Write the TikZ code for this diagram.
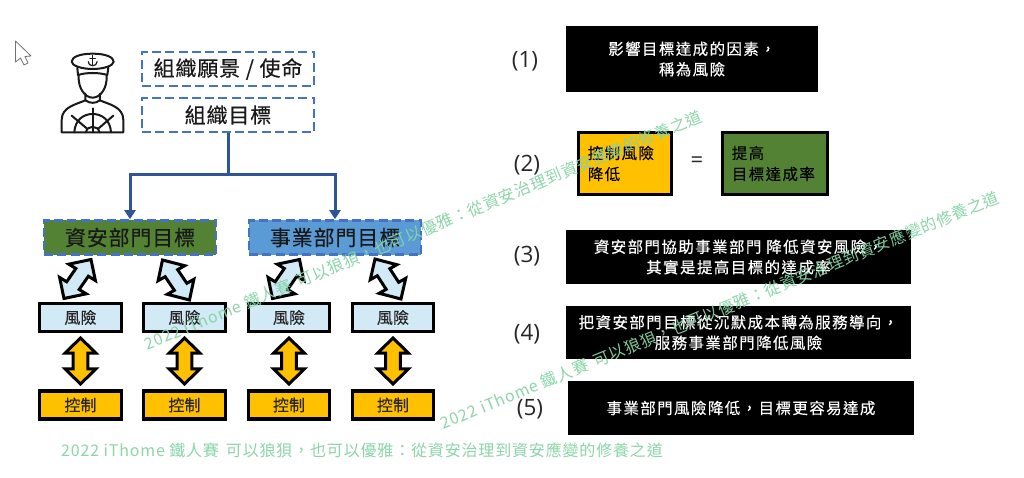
\documentclass[tikz,border=0pt]{standalone}
\usepackage{fontspec}
\setmainfont{Noto Sans CJK TC}
\newfontfamily\labelfont{Noto Sans CJK TC}[FakeBold=0.25,LetterSpace=1]
\newfontfamily\headfont{Noto Sans CJK TC}[FakeBold=0.3,LetterSpace=4]
\newfontfamily\bodyfont{Noto Sans CJK TC}[FakeBold=0.25,LetterSpace=9]
\newfontfamily\markfont{Noto Sans CJK TC}[LetterSpace=5.2]
\newfontfamily\latinfont{Open Sans}
\usetikzlibrary{arrows.meta,calc}
\definecolor{dashblue}{HTML}{4472C4}
\definecolor{linkblue}{HTML}{2F5597}
\definecolor{okgreen}{HTML}{548235}
\definecolor{bizblue}{HTML}{5B9BD5}
\definecolor{riskblue}{HTML}{D2E9F6}
\definecolor{ctrlorange}{HTML}{FFC000}
\definecolor{wmgreen}{HTML}{86D3A6}
\newcommand{\fwcomma}{\symbol{"FF0C}}
\newcommand{\fwcolon}{\symbol{"FF1A}}
\tikzset{
  goalbox/.style={draw=dashblue,line width=2.6pt,dash pattern=on 9pt off 4.3pt,inner sep=0pt,text=black!90,font=\headfont\fontsize{21}{24}\selectfont,minimum width=172pt,minimum height=34pt},
  smallbox/.style={draw=black,line width=3.4pt,inner sep=0pt,minimum width=81.5pt,minimum height=28pt,text=black!85,font=\labelfont\fontsize{16}{20}\selectfont},
  riskbox/.style={smallbox,fill=riskblue},
  ctrlbox/.style={smallbox,fill=ctrlorange},
  blackbox/.style={fill=black,inner sep=0pt,text=white,align=center,font=\bodyfont\fontsize{15.5}{20.5}\selectfont},
  thickbox/.style={draw=black,line width=3.4pt,inner xsep=9.3pt,inner ysep=0pt,text=black,align=left,minimum height=62pt,font=\bodyfont\fontsize{15.5}{21}\selectfont},
  steplabel/.style={inner sep=0pt,text=black!85,font=\latinfont\fontsize{22.5}{26}\selectfont},
  blockshape/.style={draw=black,line width=3pt,miter limit=10},
  linkline/.style={draw=linkblue,line width=3pt},
  linkarrow/.style={linkline,-{Triangle[width=11pt,length=9pt]}},
  iconline/.style={draw=black!90,line width=2pt,line cap=round,line join=round},
  watermark/.style={inner sep=0pt,text=wmgreen,opacity=.95,font=\markfont\fontsize{16}{20}\selectfont},
}
% block double arrow: fill, centre, half axis (ax,ay), half head width (bx,by), pixels with y down
\newcommand{\blockarrow}[6]{%
  \begin{scope}[cm={#3,-#4,#5,-#6,#2},x=1pt,y=1pt]
    \draw[blockshape,fill=#1] (1,0) -- (.34,1) -- (.34,.47) -- (-.34,.47) -- (-.34,1) -- (-1,0) -- (-.34,-1) -- (-.34,-.47) -- (.34,-.47) -- (.34,-1) -- cycle;
  \end{scope}}
\newcommand{\wmtext}{2022 iThome 鐵人賽\hspace{7pt}可以狼狽\fwcomma 也可以優雅\fwcolon 從資安治理到資安應變的修養之道}
\begin{document}
\begin{tikzpicture}[x=1pt,y=-1pt]
\useasboundingbox[fill=white] (0,0) rectangle (1024,478);

% cursor
\draw[draw=black!55,fill=white,line width=.8pt,line join=round]
  (15.5,41) -- (15.5,62) -- (20.5,58) -- (24,65) -- (28,63) -- (25,56.5) -- (31,56) -- cycle;

% captain icon
\begin{scope}[shift={(50,45)},x=.3333pt,y=-.3333pt]
  \draw[iconline] (128,26) .. controls (90,26) and (65,36) .. (65,50) .. controls (65,62) and (95,72) .. (128,72) .. controls (161,72) and (191,62) .. (191,50) .. controls (191,36) and (166,26) .. (128,26) -- cycle;
  \draw[iconline] (82,68) -- (84,90) .. controls (110,82) and (146,82) .. (172,90) -- (175,68);
  \draw[iconline] (86,92) .. controls (84,130) and (105,158) .. (128,158) .. controls (151,158) and (172,130) .. (170,92);
  \draw[iconline] (106,146) -- (106,166) .. controls (120,176) and (136,176) .. (150,166) -- (150,146);
  \draw[iconline] (128,190) -- (128,262);
  \draw[iconline] (106,166) .. controls (80,178) and (35,185) .. (35,225) -- (35,262) -- (220,262) -- (220,225) .. controls (220,185) and (176,178) .. (150,166);
  \draw[iconline] (65,212) -- (110,250);
  \draw[iconline] (190,212) -- (146,250);
  \draw[iconline] (73,262) .. controls (75,225) and (100,207) .. (128,207) .. controls (156,207) and (181,225) .. (183,262);
  \draw[iconline] (108,262) .. controls (110,240) and (146,240) .. (148,262);
  \draw[iconline,line width=1.2pt] (128,31) -- (128,62);
  \draw[iconline,line width=1.2pt] (120,40) -- (136,40);
  \draw[iconline,line width=1.2pt] (115,50) .. controls (116,60) and (124,62) .. (128,62) .. controls (132,62) and (140,60) .. (141,50);
\end{scope}

% goals
\node[goalbox] (vision) at (228,69) {組織願景 / 使命};
\node[goalbox] (goal) at (228,115) {組織目標};
\node[goalbox,fill=okgreen] (sec) at (130,237.5) {資安部門目標};
\node[goalbox,fill=bizblue] (biz) at (335,237.5) {事業部門目標};

\coordinate (split) at (228,175);
\draw[linkline] (goal.south) -- (split);
\draw[linkarrow] (split) -| (sec.north);
\draw[linkarrow] (split) -| (biz.north);

% risk and control
\node[riskbox] (r1) at (80.5,317.5) {風險};
\node[riskbox] (r2) at (184.5,317.5) {風險};
\node[riskbox] (r3) at (289,317.5) {風險};
\node[riskbox] (r4) at (393,317.5) {風險};
\node[ctrlbox] (c1) at (80.5,405) {控制};
\node[ctrlbox] (c2) at (184.5,405) {控制};
\node[ctrlbox] (c3) at (289,405) {控制};
\node[ctrlbox] (c4) at (393,405) {控制};
\blockarrow{ctrlorange}{(80.5,361)}{0}{23}{15.5}{0}
\blockarrow{ctrlorange}{(184.5,361)}{0}{23}{15.5}{0}
\blockarrow{ctrlorange}{(289,361)}{0}{23}{15.5}{0}
\blockarrow{ctrlorange}{(393,361)}{0}{23}{15.5}{0}
\blockarrow{riskblue}{(77.5,279)}{13.5}{-19.5}{13.3}{8.2}
\blockarrow{riskblue}{(176,280)}{13.5}{20}{13.3}{-7.5}
\blockarrow{riskblue}{(286,279)}{13.5}{-19.5}{13.3}{8.2}
\blockarrow{riskblue}{(388,279)}{13}{20}{13.3}{-7.5}

% right column
\node[steplabel] (n1) at (525,61.5) {(1)};
\node[blackbox,minimum width=252pt,minimum height=66pt] (t1) at (692,59) {影響目標達成的因素\fwcomma\\稱為風險};
\node[steplabel] (n2) at (527,165) {(2)};
\node[thickbox,fill=ctrlorange,text width=74.4pt] (t2a) at (625,163.5) {控制風險\\降低};
\node[inner sep=0pt,text=black!85,font=\latinfont\fontsize{22}{26}\selectfont] (eq) at (697,162.5) {=};
\node[thickbox,fill=okgreen,text width=86.4pt] (t2b) at (775,163.5) {提高\\目標達成率};
\node[steplabel] (n3) at (527,256) {(3)};
\node[blackbox,minimum width=345pt,minimum height=54pt] (t3) at (738.5,257) {資安部門協助事業部門 降低資安風險\fwcomma\\其實是提高目標的達成率};
\node[steplabel] (n4) at (527,334) {(4)};
\node[blackbox,minimum width=345pt,minimum height=53pt] (t4) at (738.5,332.5) {把資安部門目標從沉默成本轉為服務導向\fwcomma\\服務事業部門降低風險};
\node[steplabel] (n5) at (530,409) {(5)};
\node[blackbox,minimum width=346pt,minimum height=54pt] (t5) at (741,408) {事業部門風險降低\fwcomma 目標更容易達成};

% watermarks
\node[watermark] (w1) at (362,450) {\wmtext};
\node[watermark,rotate=22.4] (w2) at (423,230) {\wmtext};
\node[watermark,rotate=22.2] (w3) at (720,310) {\wmtext};
\end{tikzpicture}
\end{document}
